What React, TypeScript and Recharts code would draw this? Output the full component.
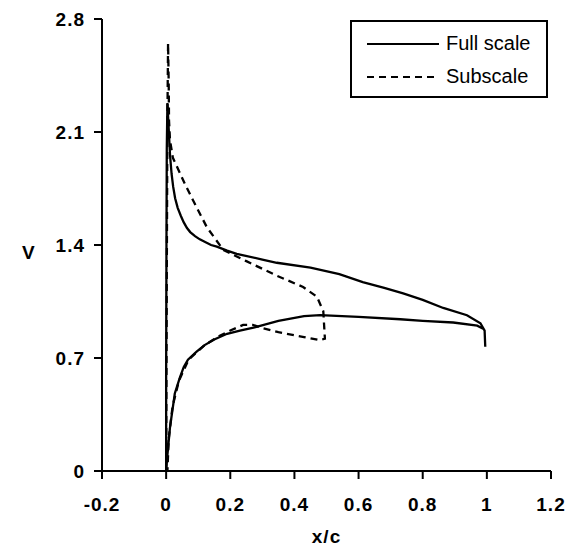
import { LineChart, Line, XAxis, YAxis, Label } from "recharts";

// Velocity along the section surface: lower side from the trailing edge
// back to the stagnation point, then up round the nose and along the upper side.
const fullScaleX = [
  0.99, 0.97, 0.895, 0.8, 0.73, 0.6, 0.48, 0.43, 0.35, 0.276, 0.23, 0.19, 0.15, 0.12, 0.095, 0.068, 0.055, 0.043,
  0.027, 0.012, 0.004, 0.0,
  0.0, 0.001, 0.002, 0.004, 0.008, 0.012, 0.017, 0.022, 0.028, 0.036, 0.046, 0.055, 0.065, 0.075, 0.09, 0.105,
  0.12, 0.14, 0.158, 0.19, 0.22, 0.3, 0.345, 0.45, 0.54, 0.613, 0.68, 0.739, 0.8, 0.864, 0.938, 0.98, 0.993, 0.995,
];
const fullScaleV = [
  0.88, 0.9, 0.92, 0.93, 0.94, 0.955, 0.965, 0.96, 0.93, 0.89, 0.87, 0.85, 0.815, 0.78, 0.74, 0.69, 0.645, 0.58,
  0.48, 0.27, 0.1, 0.0,
  0.6, 1.4, 2.0, 2.28, 2.12, 1.96, 1.84, 1.76, 1.69, 1.63, 1.58, 1.54, 1.505, 1.48, 1.455, 1.435,
  1.42, 1.4, 1.39, 1.365, 1.345, 1.31, 1.29, 1.26, 1.22, 1.17, 1.135, 1.1, 1.06, 1.01, 0.965, 0.915, 0.87, 0.77,
];

const subscaleX = [
  0.0, 0.002, 0.004, 0.006, 0.008, 0.009, 0.012, 0.021, 0.035, 0.058, 0.083, 0.127, 0.178, 0.25, 0.345, 0.427,
  0.47, 0.49, 0.495, 0.48, 0.43, 0.35, 0.3, 0.27, 0.24, 0.2, 0.16, 0.12, 0.07, 0.04, 0.02, 0.008, 0.004,
];
const subscaleV = [
  0.0, 1.2, 2.2, 2.65, 2.4, 2.17, 2.05, 1.94, 1.88, 1.78, 1.68, 1.51, 1.37, 1.3, 1.21, 1.14,
  1.08, 0.99, 0.82, 0.81, 0.83, 0.86, 0.885, 0.905, 0.905, 0.87, 0.83, 0.78, 0.69, 0.56, 0.4, 0.2, 0.0,
];

const xTicks = [-0.2, 0, 0.2, 0.4, 0.6, 0.8, 1, 1.2];
const xTickLabels = ["-0.2", "0", "0.2", "0.4", "0.6", "0.8", "1", "1.2"];
const yTicks = [0, 0.7, 1.4, 2.1, 2.8];
const yTickLabels = ["0", "0.7", "1.4", "2.1", "2.8"];

const seriesNames = ["Full scale", "Subscale"];
const seriesDashes = [undefined, "7 5"];

const fullScale = fullScaleX.map((x, i) => ({ x, v: fullScaleV[i] }));
const subscale = subscaleX.map((x, i) => ({ x, v: subscaleV[i] }));

const FONT = '"Liberation Sans", Arial, Helvetica, sans-serif';
const tickStyle = { fontSize: 19, fontWeight: 700, fill: "#000", fontFamily: FONT, letterSpacing: 1 };

// boxed key in the upper right corner of the plot
function BoxLegend() {
  return (
    <div
      style={{
        position: "absolute",
        left: 350,
        top: 20,
        width: 198,
        height: 78,
        border: "2px solid #000",
        boxSizing: "border-box",
        background: "#fff",
        paddingTop: 5,
      }}
    >
      {seriesNames.map((name, i) => (
        <div key={name} style={{ display: "flex", alignItems: "center", height: 33 }}>
          <svg width={72} height={6} style={{ marginLeft: 15, marginRight: 7 }}>
            <line x1={0} y1={3} x2={72} y2={3} stroke="#000" strokeWidth={2} strokeDasharray={seriesDashes[i]} />
          </svg>
          <span style={{ fontSize: 20, fontFamily: FONT, color: "#000" }}>{name}</span>
        </div>
      ))}
    </div>
  );
}

export default function App() {
  return (
    <div style={{ position: "absolute", left: 0, top: 0, width: 571, height: 547, background: "#fff" }}>
      <LineChart width={571} height={547} margin={{ top: 19, right: 20, bottom: 0, left: 0 }}>
        <XAxis
          type="number"
          dataKey="x"
          domain={[-0.2, 1.2]}
          ticks={xTicks}
          tickFormatter={(t: number) => xTickLabels[xTicks.indexOf(t)] ?? String(t)}
          interval={0}
          allowDataOverflow
          height={76}
          stroke="#000"
          strokeWidth={2}
          tickSize={8}
          tickMargin={19}
          tick={tickStyle}
        >
          <Label
            value="x/c"
            position="insideBottom"
            offset={4}
            style={{ fontSize: 19, fontWeight: 700, fill: "#000", fontFamily: FONT, letterSpacing: 1 }}
          />
        </XAxis>
        <YAxis
          type="number"
          dataKey="v"
          domain={[0, 2.8]}
          ticks={yTicks}
          tickFormatter={(t: number) => yTickLabels[yTicks.indexOf(t)] ?? String(t)}
          interval={0}
          allowDataOverflow
          width={102}
          stroke="#000"
          strokeWidth={2}
          tickSize={8}
          tickMargin={9}
          tick={tickStyle}
        >
          <Label
            value="V"
            position="insideLeft"
            offset={22}
            dy={7}
            style={{ fontSize: 19, fontWeight: 700, fill: "#000", fontFamily: FONT }}
          />
        </YAxis>
        <Line
          data={fullScale}
          dataKey="v"
          name={seriesNames[0]}
          type="linear"
          stroke="#000"
          strokeWidth={2.3}
          dot={false}
          activeDot={false}
          isAnimationActive={false}
        />
        <Line
          data={subscale}
          dataKey="v"
          name={seriesNames[1]}
          type="linear"
          stroke="#000"
          strokeWidth={2.3}
          strokeDasharray={seriesDashes[1]}
          dot={false}
          activeDot={false}
          isAnimationActive={false}
        />
      </LineChart>
      <BoxLegend />
    </div>
  );
}
